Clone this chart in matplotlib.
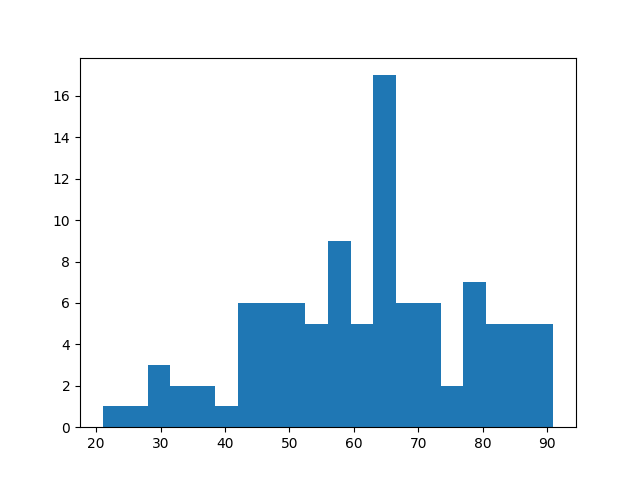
import numpy as np
import matplotlib
matplotlib.use('Agg')
import matplotlib.pyplot as plt

# histogram: 20 bins from 21 to 91
lo, hi = 21, 91
counts = [1, 1, 3, 2, 2, 1, 6, 6, 6, 5, 9, 5, 17, 6, 6, 2, 7, 5, 5, 5]

edges = np.linspace(lo, hi, len(counts) + 1)
centers = (edges[:-1] + edges[1:]) / 2

fig, ax = plt.subplots(figsize=(6.4, 4.8), dpi=100)
ax.hist(centers, bins=edges, weights=counts)
fig.savefig('out.png')
